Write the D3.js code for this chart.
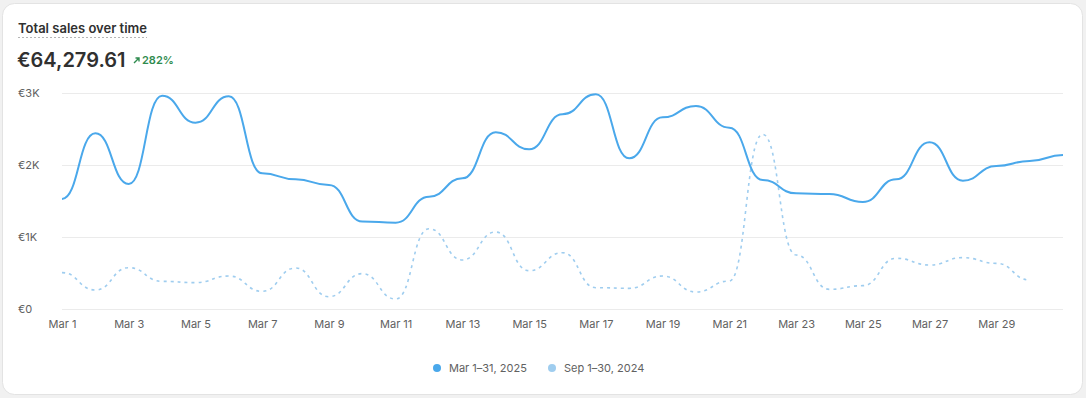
<!DOCTYPE html>
<html><head><meta charset="utf-8">
<script src="https://cdn.jsdelivr.net/npm/d3@7/dist/d3.min.js"></script>
<style>
html,body{margin:0;padding:0;background:#f1f1f1;}
body{width:1086px;height:398px;overflow:hidden;font-family:Inter,"Noto Sans",sans-serif;}
</style></head>
<body>
<svg id="c" width="1086" height="398"></svg>
<script>
const days = d3.range(1, 32);
const xTickDays = [1,3,5,7,9,11,13,15,17,19,21,23,25,27,29];
const yTicks = [0, 1000, 2000, 3000];
const yTickLabels = ["€0", "€1K", "€2K", "€3K"];
const current = [1528,2440,1736,2962,2588,2954,1884,1801,1722,1215,1199,1560,1815,2454,2218,2704,2982,2093,2662,2819,2518,1792,1606,1597,1486,1801,2315,1782,1986,2056,2139];
const previous = [505,264,574,384,366,458,245,569,171,491,139,1115,681,1069,532,782,296,287,458,236,389,2426,750,273,324,704,611,713,634,403];
const seriesNames = ["Mar 1–31, 2025", "Sep 1–30, 2024"];
const colors = ["#4aa8eb", "#9fcdef"];

const svg = d3.select("#c");
svg.append("rect").attr("x",2.5).attr("y",3.5).attr("width",1080).attr("height",391)
  .attr("rx",12).attr("fill","#fff").attr("stroke","#e3e3e3");

svg.append("text").attr("x",18).attr("y",33).attr("font-size",13)
  .attr("font-weight",600).attr("fill","#303030").text("Total sales over time");
svg.append("line").attr("x1",18).attr("x2",147).attr("y1",37.5).attr("y2",37.5)
  .attr("stroke","#b5b5b5").attr("stroke-dasharray","2,2");
svg.append("text").attr("x",17).attr("y",67).attr("font-size",20).attr("font-weight",600)
  .attr("fill","#303030").text("€64,279.61");
svg.append("path").attr("d","M134 63 L139 58 M135.5 58 L139 58 L139 61.5")
  .attr("stroke","#2e8b4e").attr("stroke-width",1.4).attr("fill","none");
svg.append("text").attr("x",142).attr("y",64).attr("font-size",11).attr("font-weight",600)
  .attr("fill","#2e8b4e").text("282%");

const x = d3.scaleLinear().domain([1,31]).range([62,1063]);
const y = d3.scaleLinear().domain([0,3000]).range([309,93]);

svg.append("g").selectAll("line").data(yTicks).join("line")
  .attr("x1",62).attr("x2",1063).attr("y1",d=>y(d)+0.5).attr("y2",d=>y(d)+0.5)
  .attr("stroke","#ebebeb");
svg.append("g").selectAll("text").data(yTicks).join("text")
  .attr("x",18).attr("y",d=>y(d)+4).attr("font-size",11).attr("fill","#616161")
  .text((d,i)=>yTickLabels[i]);

const xAxis = d3.axisBottom(x).tickValues(xTickDays).tickSize(0).tickPadding(0)
  .tickFormat(d=>"Mar "+d);
const xg = svg.append("g").attr("transform","translate(0,320)").call(xAxis);
xg.select(".domain").remove();
xg.selectAll("text").attr("font-size",11).attr("fill","#616161")
  .attr("font-family","Inter,'Noto Sans',sans-serif").attr("dy","0.71em");

const line = d3.line().x((d,i)=>x(i+1)).y(d=>y(d)).curve(d3.curveBumpX);
svg.append("path").datum(previous).attr("d",line).attr("fill","none")
  .attr("stroke",colors[1]).attr("stroke-width",1.6).attr("stroke-dasharray","3,4");
svg.append("path").datum(current).attr("d",line).attr("fill","none")
  .attr("stroke",colors[0]).attr("stroke-width",2);

const lg = svg.append("g");
const legendX = [437, 552];
seriesNames.forEach((n,i)=>{
  lg.append("circle").attr("cx",legendX[i]).attr("cy",368).attr("r",4).attr("fill",colors[i]);
  lg.append("text").attr("x",legendX[i]+12).attr("y",372).attr("font-size",11)
    .attr("fill","#616161").text(n);
});
</script>
</body></html>
